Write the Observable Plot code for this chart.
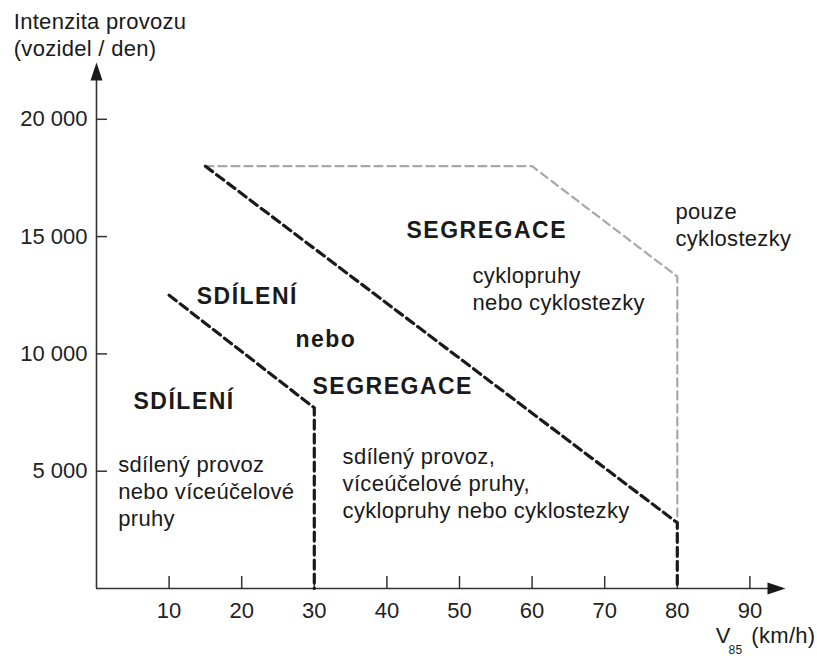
<!DOCTYPE html>
<html><head><meta charset="utf-8">
<script src="https://cdn.jsdelivr.net/npm/d3@7"></script>
<script src="https://cdn.jsdelivr.net/npm/@observablehq/plot@0.6"></script>
<style>body{margin:0;background:#fff;} svg{overflow:visible}</style>
</head><body><div id="chart"></div>
<script>
// ---- data ----
const xTicks = [10, 20, 30, 40, 50, 60, 70, 80, 90];
const yTicks = [5000, 10000, 15000, 20000];
const yTickLabels = ["5 000", "10 000", "15 000", "20 000"];

// boundary lines (V85 km/h, vehicles/day)
const sharedX = [10, 30, 30];
const sharedY = [12500, 7700, 0];
const mixedX = [15, 80, 80];
const mixedY = [18000, 2800, 0];
const cycleX = [15, 60, 80, 80];
const cycleY = [18000, 18000, 13300, 2800];

// zone labels
const boldLabels = ["SEGREGACE", "SDÍLENÍ", "nebo", "SEGREGACE", "SDÍLENÍ"];
const boldX = [42.7, 13.8, 27.4, 29.75, 5.1];
const boldY = [15260, 12440, 10614, 8610, 7971];

const noteLabels = [
  "cyklopruhy\nnebo cyklostezky",
  "pouze\ncyklostezky",
  "sdílený provoz\nnebo víceúčelové\npruhy",
  "sdílený provoz,\nvíceúčelové pruhy,\ncyklopruhy nebo cyklostezky"
];
const noteX = [51.8, 79.75, 3.0, 33.9];
const noteY = [12809, 15537, 4177, 4518];

const yTitle = "Intenzita provozu\n(vozidel / den)";
const xTitleMain = "V";
const xTitleSub = "85";
const xTitleUnit = "(km/h)";

const xAxisEnd = 94.9;
const yAxisEnd = 22420;

// ---- helpers ----
const pts = (xs, ys) => xs.map((x, i) => ({x, y: ys[i]}));
const arrowHead = {
  draw(ctx) { ctx.moveTo(0, 0); ctx.lineTo(-6, 18); ctx.lineTo(6, 18); ctx.closePath(); }
};
const ink = "#1a1a1a";

const chart = Plot.plot({
  width: 817, height: 656,
  marginLeft: 96, marginRight: 67.6, marginTop: 118.8, marginBottom: 68,
  x: {domain: [0, 90], label: null},
  y: {domain: [0, 20000], label: null},
  style: {fontFamily: "'Liberation Sans', Arial, sans-serif", fontSize: "22px", background: "#fff", color: ink, overflow: "visible"},
  marks: [
    // axis lines
    Plot.ruleY([0], {x1: 0, x2: xAxisEnd - 2.3, stroke: "#333", strokeWidth: 1.6}),
    Plot.ruleX([0], {y1: 0, y2: yAxisEnd - 770, stroke: "#333", strokeWidth: 1.6}),
    Plot.dot([{x: xAxisEnd, y: 0}], {x: "x", y: "y", symbol: arrowHead, rotate: 90, fill: ink, stroke: null}),
    Plot.dot([{x: 0, y: yAxisEnd}], {x: "x", y: "y", symbol: arrowHead, fill: ink, stroke: null}),
    // axes
    Plot.axisX({ticks: xTicks, label: null, tickSize: -12, tickPadding: 26, stroke: "#333", strokeWidth: 1.5, fill: "#222", fontSize: 22}),
    Plot.axisY({ticks: yTicks, label: null, tickSize: -11, tickPadding: 20, tickFormat: d => yTickLabels[yTicks.indexOf(d)], stroke: "#333", strokeWidth: 1.5, fill: "#222", fontSize: 22}),
    // boundaries
    Plot.line(pts(cycleX, cycleY), {x: "x", y: "y", stroke: "#a8a8a8", strokeWidth: 2.2, strokeDasharray: "8,5"}),
    Plot.line(pts(sharedX, sharedY), {x: "x", y: "y", stroke: ink, strokeWidth: 3.2, strokeDasharray: "9,5"}),
    Plot.line(pts(mixedX, mixedY), {x: "x", y: "y", stroke: ink, strokeWidth: 3.2, strokeDasharray: "9,5"}),
    // labels
    Plot.text(boldLabels, {x: (d, i) => boldX[i], y: (d, i) => boldY[i], text: d => d, textAnchor: "start", lineAnchor: "middle", fontWeight: "bold", fontSize: 23, fill: ink}),
    Plot.text(noteLabels, {x: (d, i) => noteX[i], y: (d, i) => noteY[i], text: d => d, textAnchor: "start", lineAnchor: "middle", lineHeight: 1.22, fontSize: 22, fill: ink}),
    // axis titles
    Plot.text([yTitle], {x: -11.4, y: 23636, text: d => d, textAnchor: "start", lineAnchor: "middle", lineHeight: 1.22, fontSize: 22, fill: ink}),
    Plot.text([xTitleMain], {x: 85.3, y: -2003, text: d => d, textAnchor: "start", lineAnchor: "middle", fontSize: 22, fill: ink}),
    Plot.text([xTitleSub], {x: 87.05, y: -2643, text: d => d, textAnchor: "start", lineAnchor: "middle", fontSize: 12, fill: ink}),
    Plot.text([xTitleUnit], {x: 90.2, y: -2003, text: d => d, textAnchor: "start", lineAnchor: "middle", fontSize: 22, fill: ink})
  ]
});
d3.select(chart).selectAll("g[aria-label='text'] text").style("letter-spacing", "0.3px");
d3.select(chart).selectAll("g[font-weight='bold'] text").style("letter-spacing", "1.5px");
document.getElementById("chart").appendChild(chart);
</script>
</body></html>
